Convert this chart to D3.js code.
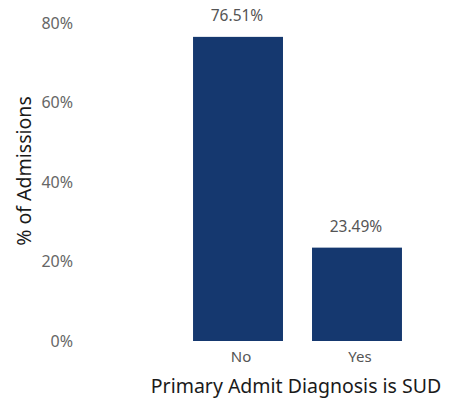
<!DOCTYPE html>
<html><head><meta charset="utf-8">
<script src="https://cdn.jsdelivr.net/npm/d3@7"></script>
<style>body{margin:0;background:#fff}svg{display:block}</style>
</head><body>
<script>
const categories = ["No", "Yes"];
const values = [76.51, 23.49];
const yTicks = [0, 20, 40, 60, 80];
const xTitle = "Primary Admit Diagnosis is SUD";
const yTitle = "% of Admissions";

const W = 452, H = 400;
const svg = d3.select("body").append("svg").attr("width", W).attr("height", H);
const font = "'Noto Sans', 'Open Sans', sans-serif";

const x = d3.scaleBand().domain(categories).range([174, 421]).paddingInner(0.244).paddingOuter(0.16);
const y = d3.scaleLinear().domain([0, 80]).range([341, 23]);

// y axis labels
const yAxis = d3.axisLeft(y).tickValues(yTicks).tickFormat(d => d + "%").tickSize(0).tickPadding(0);
const gy = svg.append("g").attr("transform", "translate(73,0)").call(yAxis);
gy.select(".domain").remove();
gy.selectAll("text").attr("font-family", font).attr("font-size", 16).attr("fill", "#666");

// bars
svg.selectAll("rect.bar").data(values).join("rect")
  .attr("class", "bar")
  .attr("x", (d, i) => x(categories[i]))
  .attr("width", x.bandwidth())
  .attr("y", d => y(d))
  .attr("height", d => y(0) - y(d))
  .attr("fill", "#15386f");

// value labels
svg.selectAll("text.val").data(values).join("text")
  .attr("class", "val")
  .attr("x", (d, i) => x(categories[i]) + x.bandwidth() / 2 - 1)
  .attr("y", d => y(d) - 15.5)
  .attr("text-anchor", "middle")
  .attr("font-family", font).attr("font-size", 15.5).attr("fill", "#555")
  .text(d => d.toFixed(2) + "%");

// x axis
const xAxis = d3.axisBottom(x).tickSize(0).tickPadding(10);
const gx = svg.append("g").attr("transform", "translate(3,341)").call(xAxis);
gx.select(".domain").remove();
gx.selectAll("text").attr("font-family", font).attr("font-size", 15).attr("fill", "#555");

// titles
svg.append("text").attr("x", 296).attr("y", 393).attr("text-anchor", "middle")
  .attr("font-family", font).attr("font-size", 19.5).attr("fill", "#1a1a1a").text(xTitle);
svg.append("text").attr("transform", "translate(31,171) rotate(-90)").attr("text-anchor", "middle")
  .attr("font-family", font).attr("font-size", 19.5).attr("fill", "#1a1a1a").text(yTitle);
</script>
</body></html>
